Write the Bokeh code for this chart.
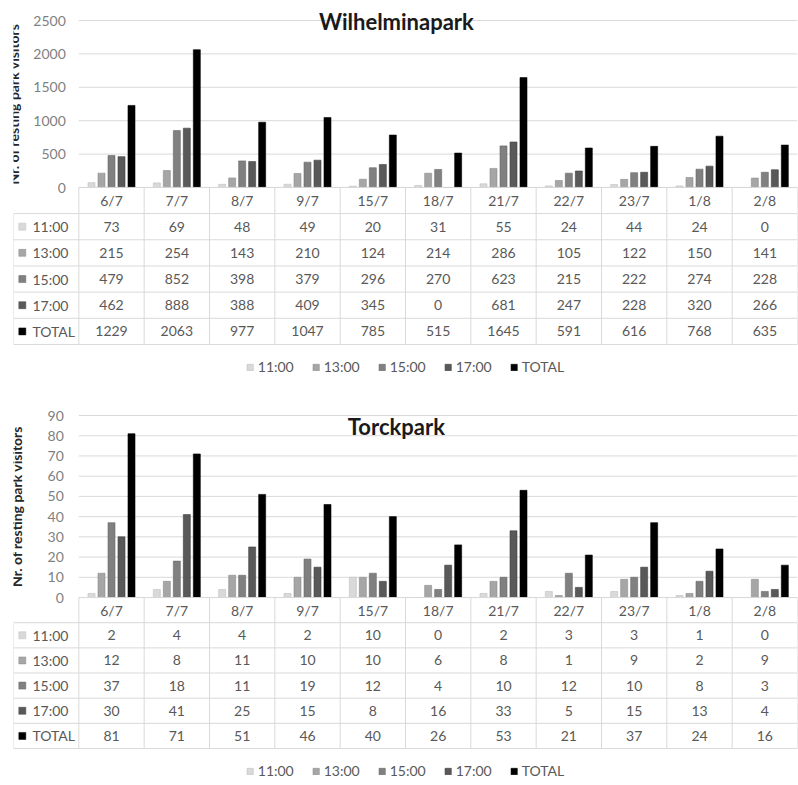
import numpy as np
from bokeh.plotting import figure
from bokeh.models import (FactorRange, Range1d, LinearAxis, FixedTicker, Legend,
                          LegendItem, Label, ColumnDataSource)
from bokeh.transform import dodge
from bokeh.layouts import column
from bokeh.embed import file_html
from bokeh.resources import INLINE
from bokeh.core.properties import value

# ---------------- data ----------------
dates = ["6/7", "7/7", "8/7", "9/7", "15/7", "18/7", "21/7", "22/7", "23/7", "1/8", "2/8"]
series = ["11:00", "13:00", "15:00", "17:00", "TOTAL"]

wil_1100 = [73, 69, 48, 49, 20, 31, 55, 24, 44, 24, 0]
wil_1300 = [215, 254, 143, 210, 124, 214, 286, 105, 122, 150, 141]
wil_1500 = [479, 852, 398, 379, 296, 270, 623, 215, 222, 274, 228]
wil_1700 = [462, 888, 388, 409, 345, 0, 681, 247, 228, 320, 266]
wil_total = [1229, 2063, 977, 1047, 785, 515, 1645, 591, 616, 768, 635]

tor_1100 = [2, 4, 4, 2, 10, 0, 2, 3, 3, 1, 0]
tor_1300 = [12, 8, 11, 10, 10, 6, 8, 1, 9, 2, 9]
tor_1500 = [37, 18, 11, 19, 12, 4, 10, 12, 10, 8, 3]
tor_1700 = [30, 41, 25, 15, 8, 16, 33, 5, 15, 13, 4]
tor_total = [81, 71, 51, 46, 40, 26, 53, 21, 37, 24, 16]

wil_ticks = [0, 500, 1000, 1500, 2000, 2500]
tor_ticks = [0, 10, 20, 30, 40, 50, 60, 70, 80, 90]

colors = ["#d9d9d9", "#a6a6a6", "#808080", "#595959", "#000000"]
edge = ["#bfbfbf", "#8c8c8c", "#666666", "#404040", "#000000"]
FONT_NAME = "Lato"
FONT = value(FONT_NAME)
GRID = "#d9d9d9"
TXT = "#595959"


def make_panel(title, vals, ticks, y_range, tbl_range, height, b_top,
               title_y, legend_margin, tick_standoff, label_standoff):
    xr = FactorRange(factors=[" "] + dates, range_padding=0)
    p = figure(width=798, height=height, x_range=xr,
               y_range=Range1d(*y_range),
               x_axis_location=None, y_axis_location=None,
               output_backend="svg", toolbar_location=None,
               min_border_left=13, min_border_right=1,
               min_border_top=b_top, min_border_bottom=0)
    p.outline_line_color = None
    p.grid.visible = False
    p.extra_y_ranges = {"tbl": Range1d(*tbl_range)}
    nser = len(series)
    ncat = len(dates)

    # gridlines over the chart area
    p.segment(x0=[1] * len(ticks), x1=[ncat + 1] * len(ticks), y0=ticks, y1=ticks,
              line_color=GRID, line_width=1)

    # bars
    step = 0.153
    renderers = []
    for k, (s, v) in enumerate(zip(series, vals)):
        src = ColumnDataSource(dict(x=dates, top=v))
        r = p.vbar(x=dodge("x", (k - 2) * step, range=xr), top="top", width=0.107,
                   source=src, fill_color=colors[k], line_color=edge[k], line_width=0.6)
        renderers.append(r)

    # table lines
    hy = list(range(0, nser + 1))
    p.segment(x0=[0] * len(hy), x1=[ncat + 1] * len(hy), y0=hy, y1=hy,
              line_color=GRID, line_width=1, y_range_name="tbl")
    p.segment(x0=[1], x1=[ncat + 1], y0=[nser + 1], y1=[nser + 1],
              line_color=GRID, line_width=1, y_range_name="tbl")
    vx = list(range(1, ncat + 2))
    p.segment(x0=vx, x1=vx, y0=[0] * len(vx), y1=[nser + 1] * len(vx),
              line_color=GRID, line_width=1, y_range_name="tbl")
    p.segment(x0=[0], x1=[0], y0=[0], y1=[nser],
              line_color=GRID, line_width=1, y_range_name="tbl")

    # header row
    p.text(x=dates, y=[nser + 0.5] * ncat, text=dates, y_range_name="tbl",
           text_align="center", text_baseline="middle", text_font=FONT,
           text_font_size="14px", text_color=TXT)

    # rows
    for k, (s, v) in enumerate(zip(series, vals)):
        row = nser - 1 - k + 0.5
        src = ColumnDataSource(dict(x=dates, y=[row] * ncat, t=[str(a) for a in v]))
        p.text(x="x", y="y", text="t", source=src, y_range_name="tbl",
               text_align="center", text_baseline="middle", text_font=FONT,
               text_font_size="14px", text_color=TXT)
        lsrc = ColumnDataSource(dict(x=[" "], y=[row], t=[s]))
        p.scatter(x=dodge("x", -0.365, range=xr), y="y", source=lsrc, marker="square",
                  size=7, fill_color=colors[k], line_color=edge[k], line_width=0.5,
                  y_range_name="tbl")
        p.text(x=dodge("x", -0.21, range=xr), y="y", text="t", source=lsrc,
               y_range_name="tbl", text_align="left", text_baseline="middle",
               text_font=FONT, text_font_size="14px", text_color=TXT)

    # y axis
    ax = LinearAxis(ticker=FixedTicker(ticks=ticks), fixed_location=1,
                    axis_line_color=None, major_tick_line_color=None,
                    major_tick_out=0, major_tick_in=0,
                    minor_tick_line_color=None, major_label_standoff=tick_standoff,
                    major_label_text_font=FONT_NAME, major_label_text_font_size="14px",
                    major_label_text_color="#7f7f7f",
                    axis_label="Nr. of resting park visitors",
                    axis_label_text_font=FONT_NAME, axis_label_text_font_size="14px",
                    axis_label_text_font_style="bold", axis_label_text_color="#262626",
                    axis_label_standoff=label_standoff, bounds=(ticks[0], ticks[-1]))
    p.add_layout(ax, "left")

    # title
    p.add_layout(Label(x=5.86, y=title_y, text=title, text_align="center",
                       text_baseline="middle", text_font=FONT_NAME,
                       text_font_size="22px", text_font_style="bold",
                       text_color="#1a1a1a"))

    legend = Legend(items=[LegendItem(label=s, renderers=[r]) for s, r in zip(series, renderers)],
                    orientation="horizontal", location="bottom_center",
                    border_line_color=None, background_fill_alpha=0,
                    glyph_width=8, glyph_height=8, label_standoff=4, spacing=18,
                    padding=0, margin=legend_margin, label_height=14,
                    label_text_font=FONT_NAME, label_text_font_size="14px",
                    label_text_color=TXT)
    p.add_layout(legend, "center")
    return p


p1 = make_panel("Wilhelminapark",
                [wil_1100, wil_1300, wil_1500, wil_1700, wil_total],
                wil_ticks, (-2964, 2724.6), (-1.567, 12.95), 385, 5, 2490, 10, 13, 8)
p2 = make_panel("Torckpark",
                [tor_1100, tor_1300, tor_1500, tor_1700, tor_total],
                tor_ticks, (-92.47, 99.9), (-1.43, 14.03), 399, 10, 84.6, 5, 15, 19)

layout = column(p1, p2, spacing=0)
open("out.html", "w").write(file_html(layout, INLINE))
